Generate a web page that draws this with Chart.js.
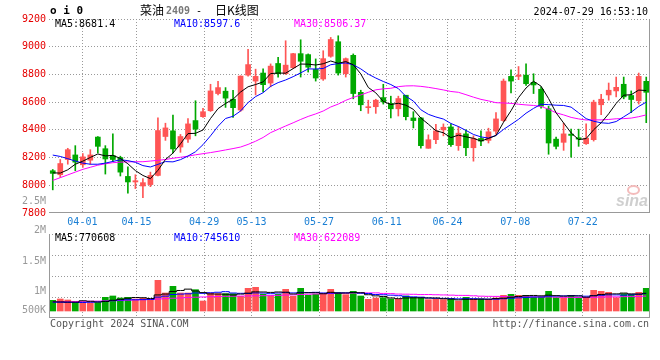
<!DOCTYPE html>
<html>
<head>
    <meta charset="utf-8">
    <title>菜油2409 - 日K线图</title>
    <script src="https://cdn.jsdelivr.net/npm/chart.js"></script>
    <style>
        body {
            margin: 0;
            background: #fff;
            width: 660px;
            height: 360px;
            position: relative;
            overflow: hidden;
            font-family: "DejaVu Sans Mono", monospace;
            font-size: 10px;
        }
        canvas {
            position: absolute;
            left: 0;
        }
        #kline { top: 0; }
        #vol { top: 226px; }
        .t {
            position: absolute;
            white-space: pre;
            line-height: 12px;
            z-index: 5;
        }
        .r { text-align: right; }
        .gray { color: #999; }
        .cjk { font-family: "Noto Sans CJK SC", sans-serif; font-size: 12px; line-height: 14px; }
    </style>
</head>
<body>
    <canvas id="kline" width="660" height="233"></canvas>
    <canvas id="vol" width="660" height="114"></canvas>

    <div class="t" style="left:50px;top:5px;font-weight:bold;font-size:11px;">o i 0</div>
    <div class="t cjk" style="left:140px;top:3px;">菜油</div>
    <div class="t" style="left:166px;top:5px;color:#777;font-weight:bold;">2409</div>
    <div class="t" style="left:196px;top:5px;">-</div>
    <div class="t cjk" style="left:215px;top:3px;">日K线图</div>
    <div class="t r" style="right:12px;top:6px;">2024-07-29 16:53:10</div>

    <div class="t" style="left:55px;top:18px;color:#000;">MA5:8681.4</div>
    <div class="t" style="left:174px;top:18px;color:#0000ff;">MA10:8597.6</div>
    <div class="t" style="left:294px;top:18px;color:#ff00ff;">MA30:8506.37</div>

    <div class="t r gray" style="right:614px;top:195px;">2.5M</div>
    <div class="t r gray" style="right:614px;top:224px;">2M</div>
    <div class="t r gray" style="right:614px;top:255px;">1.5M</div>
    <div class="t r gray" style="right:614px;top:285px;">1M</div>
    <div class="t r gray" style="right:614px;top:304px;">500K</div>

    <div class="t" style="left:55px;top:232px;color:#000;">MA5:770608</div>
    <div class="t" style="left:174px;top:232px;color:#0000ff;">MA10:745610</div>
    <div class="t" style="left:294px;top:232px;color:#ff00ff;">MA30:622089</div>

    <div class="t" style="left:50px;top:318px;color:#555;">Copyright 2024 SINA.COM</div>
    <div class="t r" style="right:11px;top:318px;color:#555;">http://finance.sina.com.cn</div>

    <div style="position:absolute;left:627px;top:185px;width:9px;height:6px;border:2px solid #f4bcbc;border-radius:50%;z-index:4;"></div>
    <div class="t" style="left:616px;top:193px;font-family:'Liberation Sans',sans-serif;font-size:16px;line-height:16px;font-weight:bold;font-style:italic;color:#cfcfcf;z-index:4;">sina</div>

    <script>
    // trading days shown
    const dates = [
        '04-01','04-02','04-03','04-08','04-09','04-10','04-11','04-12','04-15','04-16',
        '04-17','04-18','04-19','04-22','04-23','04-24','04-25','04-26','04-29','04-30',
        '05-06','05-07','05-08','05-09','05-10','05-13','05-14','05-15','05-16','05-17',
        '05-20','05-21','05-22','05-23','05-24','05-27','05-28','05-29','05-30','05-31',
        '06-03','06-04','06-05','06-06','06-07','06-11','06-12','06-13','06-14','06-17',
        '06-18','06-19','06-20','06-21','06-24','06-25','06-26','06-27','06-28','07-01',
        '07-02','07-03','07-04','07-05','07-08','07-09','07-10','07-11','07-12','07-15',
        '07-16','07-17','07-18','07-19','07-22','07-23','07-24','07-25','07-26','07-29'
    ];
    const tickLabels = ['04-01','04-15','04-29','05-13','05-27','06-11','06-24','07-08','07-22'];
    const priceTicks = [7800, 8000, 8200, 8400, 8600, 8800, 9000, 9200];

    const open = [
        8105,8076,8186,8219,8148,8181,8348,8264,8214,8200,
        8064,8024,7995,8005,8071,8352,8393,8276,8333,8467,
        8495,8538,8662,8679,8621,8543,8795,8752,8810,8738,
        8879,8805,8848,8950,8943,8836,8767,8931,9036,8805,
        8938,8671,8560,8567,8633,8591,8552,8650,8486,8486,
        8267,8329,8400,8421,8286,8371,8271,8338,8324,8391,
        8467,8786,8786,8795,8743,8693,8552,8333,8310,8369,
        8343,8300,8329,8581,8652,8681,8729,8648,8610,8750
    ];
    const high = [
        8114,8186,8267,8286,8229,8257,8352,8286,8371,8210,
        8133,8076,8048,8095,8486,8448,8507,8367,8481,8610,
        8555,8729,8750,8705,8686,8790,8981,8838,8841,8876,
        8924,9043,8952,9050,8948,8912,8971,9067,9079,8919,
        8948,8686,8614,8621,8729,8643,8643,8650,8531,8490,
        8364,8440,8443,8443,8424,8400,8357,8393,8412,8524,
        8767,8833,8857,8876,8805,8710,8571,8348,8448,8405,
        8405,8443,8614,8657,8738,8781,8781,8681,8810,8781
    ];
    const low = [
        7967,8057,8152,8105,8129,8152,8233,8081,8170,8067,
        7943,7976,7910,7990,8067,8324,8233,8238,8310,8357,
        8490,8533,8652,8562,8490,8533,8788,8652,8674,8710,
        8781,8800,8843,8781,8817,8752,8757,8924,8795,8781,
        8624,8538,8519,8519,8586,8486,8500,8471,8414,8267,
        8267,8300,8357,8281,8252,8214,8174,8286,8305,8367,
        8460,8667,8762,8721,8662,8557,8224,8262,8252,8202,
        8281,8295,8319,8510,8614,8638,8624,8524,8586,8452
    ];
    const close = [
        8086,8157,8257,8167,8205,8219,8281,8190,8186,8095,
        8024,8033,8019,8071,8395,8414,8262,8352,8443,8405,
        8531,8681,8705,8629,8560,8788,8871,8786,8726,8860,
        8805,8867,8950,8895,8852,8774,8914,9052,8810,8914,
        8662,8581,8564,8614,8602,8552,8626,8495,8467,8286,
        8329,8393,8419,8293,8376,8271,8338,8319,8386,8479,
        8752,8752,8795,8733,8724,8571,8305,8281,8371,8360,
        8333,8340,8600,8621,8686,8707,8638,8619,8786,8671
    ];

    const ma5 = [
        8090,8088,8112,8152,8174,8201,8226,8212,8216,8194,
        8155,8106,8071,8048,8108,8186,8232,8299,8373,8375,
        8399,8482,8553,8590,8621,8673,8711,8727,8746,8806,
        8810,8809,8842,8875,8874,8868,8877,8897,8880,8893,
        8870,8804,8706,8667,8605,8583,8592,8578,8548,8485,
        8441,8394,8379,8344,8362,8350,8339,8319,8338,8359,
        8455,8538,8633,8702,8751,8715,8626,8523,8450,8378,
        8330,8337,8401,8451,8516,8591,8650,8654,8687,8684
    ];
    const ma10 = [
        8218,8208,8192,8175,8160,8152,8152,8160,8172,8184,
        8178,8166,8142,8132,8151,8171,8169,8185,8211,8242,
        8293,8357,8426,8482,8498,8536,8597,8640,8668,8714,
        8741,8760,8784,8811,8840,8839,8843,8870,8878,8883,
        8869,8840,8802,8774,8749,8727,8698,8642,8608,8545,
        8512,8493,8478,8446,8424,8396,8367,8349,8341,8360,
        8403,8439,8476,8520,8555,8585,8582,8578,8576,8564,
        8523,8481,8462,8451,8447,8460,8494,8528,8569,8600
    ];
    const ma30 = [
        8035,8055,8075,8095,8115,8130,8145,8155,8163,8167,
        8169,8170,8170,8175,8180,8186,8195,8202,8210,8220,
        8228,8236,8245,8255,8265,8276,8295,8318,8345,8380,
        8404,8428,8451,8475,8497,8515,8536,8565,8586,8613,
        8634,8652,8671,8689,8696,8700,8712,8717,8718,8714,
        8707,8698,8688,8677,8671,8654,8636,8620,8609,8596,
        8594,8591,8585,8580,8576,8569,8549,8523,8508,8490,
        8479,8471,8472,8472,8475,8480,8481,8485,8495,8508
    ];

    // volume, thousands of lots
    const volume = [
        464,522,479,392,362,362,362,595,653,566,
        595,522,551,493,1334,783,1073,783,783,928,
        435,783,754,754,754,638,986,1030,725,667,
        725,943,638,986,682,725,725,943,812,710,
        856,653,508,566,580,522,508,653,595,580,
        493,508,493,508,435,595,508,522,508,566,
        682,725,682,682,609,609,856,580,580,682,
        580,580,899,856,812,580,754,725,812,986
    ];
    const vma5 = [
        400,395,390,385,444,423,391,415,467,508,
        554,586,577,545,699,737,847,893,951,870,
        800,742,737,731,696,737,777,832,827,809,
        827,818,740,792,795,795,751,812,777,783,
        809,795,708,659,633,566,537,566,572,572,
        566,566,534,516,487,508,508,514,514,540,
        557,601,633,667,676,661,688,667,647,661,
        656,600,664,719,745,745,780,745,737,771
    ];
    const vma10 = [
        380,380,375,370,370,380,395,420,450,476,
        489,489,496,506,603,645,717,735,748,785,
        769,795,815,841,783,769,760,785,779,753,
        782,798,786,809,802,811,785,776,785,789,
        802,773,760,718,708,688,666,637,615,602,
        566,551,550,544,530,537,537,524,515,514,
        533,554,573,591,608,609,644,650,657,669,
        659,644,666,683,703,701,690,705,728,758
    ];
    const vma30 = [
        400,405,410,415,420,425,430,440,450,460,
        470,480,490,500,520,535,555,570,585,600,
        610,620,630,638,645,650,655,660,665,671,
        680,694,699,719,729,742,754,765,771,775,
        784,788,787,789,764,756,737,732,726,715,
        716,707,699,690,680,678,662,645,638,635,
        633,626,628,618,615,611,616,603,596,595,
        586,583,596,606,614,616,624,626,633,647
    ];
    const volTicks = [-304.5, 609, 1522.5, 2436, 3349.5];

    const RED = '#ff5555';
    const GREEN = '#00a800';
    const GRID = '#999999';
    const FONT = { family: 'DejaVu Sans Mono', size: 10 };

    const tickIdx = tickLabels.map(d => dates.indexOf(d));
    const candleColor = close.map((c, i) => c >= open[i] ? RED : GREEN);

    // dotted grid lines through the scales, frame right/bottom solid
    const frame = {
        id: 'frame',
        beforeDatasetsDraw(chart, args, opts) {
            const ctx = chart.ctx, a = chart.chartArea;
            const xs = chart.scales.xg, ys = chart.scales.y;
            ctx.save();
            ctx.strokeStyle = GRID;
            ctx.lineWidth = 1;
            ctx.setLineDash([1, 2]);
            ctx.beginPath();
            tickIdx.forEach(v => {
                const x = Math.floor(xs.getPixelForValue(v)) + 0.5;
                ctx.moveTo(x, a.top);
                ctx.lineTo(x, a.bottom);
            });
            opts.yTicks.forEach(v => {
                const y = Math.min(Math.floor(ys.getPixelForValue(v)), a.bottom - 1) + 0.5;
                ctx.moveTo(a.left, y);
                ctx.lineTo(a.right, y);
            });
            ctx.stroke();
            ctx.restore();
        },
        afterDraw(chart, args, opts) {
            const ctx = chart.ctx, a = chart.chartArea;
            const top = Math.round(a.top), bottom = Math.round(a.bottom);
            const left = Math.round(a.left), right = Math.round(a.right);
            ctx.save();
            ctx.fillStyle = '#999';
            if (opts.left) ctx.fillRect(left, top, 1, bottom - top);
            ctx.fillRect(right - 1, top, 1, bottom - top);
            ctx.fillRect(left, bottom - 1, right - left, 1);
            ctx.restore();
        }
    };

    function maLine(data, color, stepped) {
        return {
            type: 'line',
            data: data,
            xAxisID: 'x',
            borderColor: color,
            borderWidth: 1,
            pointRadius: 0,
            tension: 0,
            stepped: stepped || false,
            order: 0
        };
    }

    function dateAxis(showLabels, height) {
        return {
            type: 'linear',
            position: 'bottom',
            min: 0,
            max: dates.length - 1,
            afterBuildTicks: s => { s.ticks = tickIdx.map(v => ({ value: v })); },
            afterFit: s => { s.height = height; },
            grid: { display: false, drawTicks: false },
            border: { display: false },
            ticks: {
                display: showLabels,
                color: '#1a7fd4',
                font: FONT,
                padding: 3,
                maxRotation: 0,
                autoSkip: false,
                callback: v => dates[v]
            }
        };
    }

    // price chart
    new Chart(document.getElementById('kline'), {
        type: 'bar',
        data: {
            labels: dates,
            datasets: [
                maLine(ma5, '#000000'),
                maLine(ma10, '#0000ff'),
                maLine(ma30, '#ff00ff'),
                {
                    data: dates.map((d, i) => [open[i], close[i]]),
                    xAxisID: 'x',
                    backgroundColor: candleColor,
                    barThickness: 5,
                    minBarLength: 1,
                    grouped: false,
                    order: 1
                },
                {
                    data: dates.map((d, i) => [low[i], high[i]]),
                    xAxisID: 'x',
                    backgroundColor: candleColor,
                    barThickness: 1,
                    grouped: false,
                    order: 2
                }
            ]
        },
        options: {
            responsive: false,
            animation: false,
            events: [],
            layout: { padding: { top: 19, right: 10, bottom: 0, left: 0 } },
            plugins: {
                legend: { display: false },
                tooltip: { enabled: false },
                frame: { left: false, yTicks: priceTicks }
            },
            scales: {
                x: { display: false, offset: true },
                xg: dateAxis(true, 20),
                y: {
                    min: 7800,
                    max: 9200,
                    afterFit: s => { s.width = 49; },
                    grid: { display: false, drawTicks: false },
                    border: { display: false },
                    ticks: { stepSize: 200, color: '#e60000', font: FONT, padding: 3, callback: v => String(v) }
                }
            }
        },
        plugins: [frame]
    });

    // volume chart
    new Chart(document.getElementById('vol'), {
        type: 'bar',
        data: {
            labels: dates,
            datasets: [
                maLine(vma5, '#000000', 'middle'),
                maLine(vma10, '#0000ff', 'middle'),
                maLine(vma30, '#ff00ff', 'middle'),
                {
                    data: volume,
                    xAxisID: 'x',
                    backgroundColor: candleColor,
                    barThickness: 6,
                    order: 1
                }
            ]
        },
        options: {
            responsive: false,
            animation: false,
            events: [],
            layout: { padding: { top: 8, right: 10, bottom: 22, left: 0 } },
            plugins: {
                legend: { display: false },
                tooltip: { enabled: false },
                frame: { left: true, yTicks: volTicks }
            },
            scales: {
                x: { display: false, offset: true },
                xg: dateAxis(false, 0),
                y: {
                    min: -304.5,
                    max: 3349.5,
                    afterFit: s => { s.width = 49; },
                    grid: { display: false, drawTicks: false },
                    border: { display: false },
                    ticks: { display: false, stepSize: 913.5 }
                }
            }
        },
        plugins: [frame]
    });
    </script>
</body>
</html>
